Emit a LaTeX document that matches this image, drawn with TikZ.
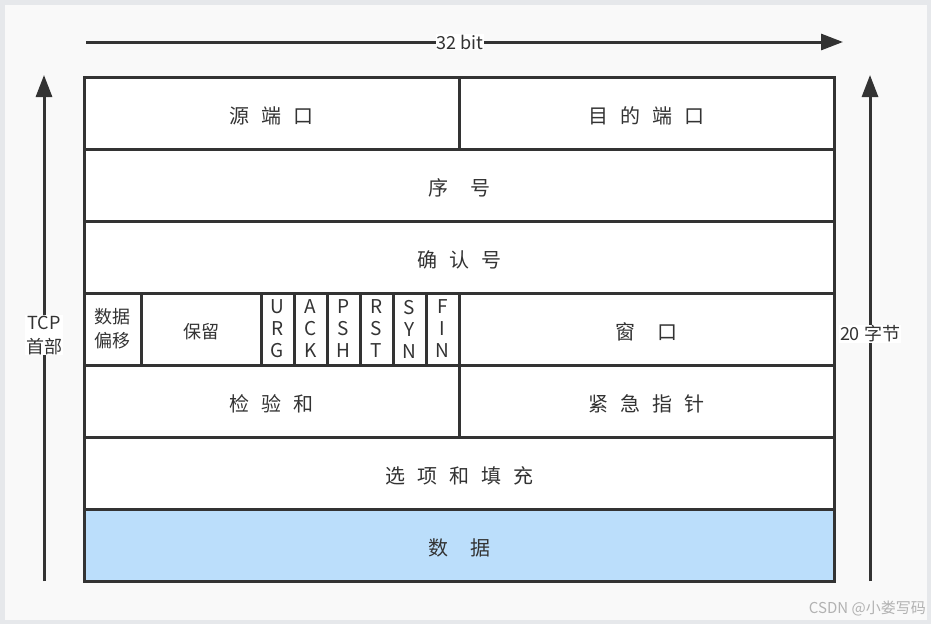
\documentclass[tikz,border=0pt]{standalone}
\usepackage{fontspec}
\newfontfamily\cjk{Noto Sans CJK SC}
\usetikzlibrary{arrows.meta}
\definecolor{ln}{HTML}{333333}
\definecolor{bgc}{HTML}{F9F9F9}
\definecolor{edgec}{HTML}{E6E8EB}
\definecolor{datac}{HTML}{BBDEFB}
\newcommand{\gp}{\hspace{0.6em}}
\newcommand{\gq}{\hspace{1.1em}}
\begin{document}
\begin{tikzpicture}[x=1pt,y=-1pt,
  cell/.style={draw=ln,line width=3pt,fill=white,anchor=north west,inner sep=0pt,outer sep=0pt,
    minimum height=72pt,font=\cjk\fontsize{20}{24}\selectfont,text=ln},
  big/.style={cell,text height=20.5pt,text depth=0pt},
  small/.style={font=\cjk\fontsize{18}{24}\selectfont,align=center},
  flag/.style={cell,minimum width=33pt,font=\cjk\fontsize{19}{22}\selectfont,align=center},
  arr/.style={draw=ln,line width=3pt,-{Triangle[length=22pt,width=16pt]}},
  lbl/.style={fill=white,inner sep=1pt,text=ln,font=\cjk\fontsize{18}{24}\selectfont,align=center}]
\path[use as bounding box,fill=edgec] (0,0) rectangle (931,624);
\fill[bgc] (5,5) rectangle (927,620);
% rows
\node[big,minimum width=375pt] (src) at (84,77) {源\gp 端\gp 口};
\node[big,minimum width=375pt] (dst) at (459,77) {目\gp 的\gp 端\gp 口};
\node[big,minimum width=750pt] (seq) at (84,149) {序\gq 号};
\node[big,minimum width=750pt] (ack) at (84,221) {确\gp 认\gp 号};
\node[cell,minimum width=57pt,small] (off) at (84,293) {数据\\偏移};
\node[cell,minimum width=120pt,small,text height=19pt,text depth=0pt] (res) at (141,293) {保留};
\node[flag] (urg) at (261,293) {U\\R\\G};
\node[flag] (fack) at (294,293) {A\\C\\K};
\node[flag] (psh) at (327,293) {P\\S\\H};
\node[flag] (rst) at (360,293) {R\\S\\T};
\node[flag] (syn) at (393,293) {S\\Y\\N};
\node[flag] (fin) at (426,293) {F\\I\\N};
\node[big,minimum width=375pt] (win) at (459,293) {窗\gq 口};
\node[big,minimum width=375pt] (chk) at (84,365) {检\gp 验\gp 和};
\node[big,minimum width=375pt] (urp) at (459,365) {紧\gp 急\gp 指\gp 针};
\node[big,minimum width=750pt] (opt) at (84,437) {选\gp 项\gp 和\gp 填\gp 充};
\node[big,minimum width=750pt,fill=datac] (data) at (84,509) {数\gq 据};
% arrows
\coordinate (tl) at (86,42);
\coordinate (tr) at (843,42);
\draw[arr] (tl) -- (tr);
\node[lbl] (bits) at (460,42) {32 bit};
\coordinate (lb) at (44,581);
\coordinate (lt) at (44,75);
\draw[arr] (lb) -- (lt);
\node[lbl] (tcp) at (44,335) {TCP\\首部};
\coordinate (rb) at (870,581);
\coordinate (rt) at (870,75);
\draw[arr] (rb) -- (rt);
\node[lbl] (bytes) at (870,334) {20 字节};
\node[anchor=east,text=black!30,font=\cjk\fontsize{15}{17}\selectfont,inner sep=0pt] (wm) at (926,608) {CSDN @小娄写码};
\end{tikzpicture}
\end{document}
